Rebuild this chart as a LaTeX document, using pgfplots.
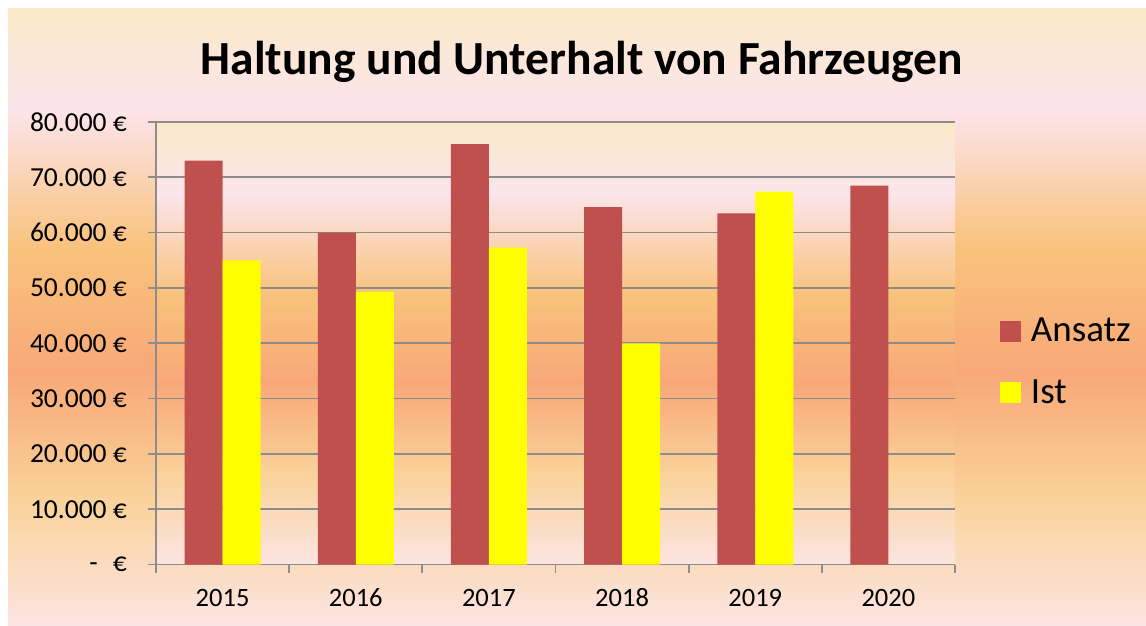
\documentclass[border=0pt]{standalone}
\usepackage{pgfplots}
\pgfplotsset{compat=1.18}
\usepackage{fontspec}
\setmainfont{Carlito}
\definecolor{bgcream}{HTML}{FBE9C9}
\definecolor{bgpink}{HTML}{FCE5EC}
\definecolor{bgorange}{HTML}{F9C27C}
\definecolor{bgsalmon}{HTML}{F8A878}
\definecolor{bglight}{HTML}{FAD39B}
\definecolor{bgpinkb}{HTML}{FCE4E2}
\definecolor{gridgray}{HTML}{8C8C8C}
\definecolor{barred}{HTML}{C0504D}
\definecolor{baryellow}{HTML}{FFFF00}
\pgfdeclareverticalshading{chartbg}{100bp}{color(0bp)=(bgpinkb); color(25bp)=(bgpinkb); color(35bp)=(bglight); color(45.5bp)=(bgsalmon); color(55.5bp)=(bgorange); color(67bp)=(bgpink); color(75bp)=(bgcream); color(100bp)=(bgcream)}
\begin{document}
\begin{tikzpicture}[x=1pt,y=1pt]
\fill[white] (0,0) rectangle (1146,625);
\shade[shading=chartbg] (8,0) rectangle (1146,616);
\begin{axis}[
  at={(156pt,60.5pt)}, anchor=south west,
  scale only axis, width=799pt, height=442.5pt,
  xmin=-0.5, xmax=5.5, ymin=0, ymax=80000,
  ybar=0pt, bar width=38pt,
  axis x line*=bottom, axis y line*=left,
  axis line style={draw=gridgray, line width=1.7pt},
  scaled y ticks=false,
  ytick={0,10000,...,80000},
  yticklabels={{-\hspace{15pt}€},10.000 €,20.000 €,30.000 €,40.000 €,50.000 €,60.000 €,70.000 €,80.000 €},
  ymajorgrids, grid style={gridgray, line width=1.7pt},
  xtick={-0.5,0.5,...,5.5}, xticklabels={},
  extra x ticks={0,1,2,3,4,5},
  extra x tick labels={2015,2016,2017,2018,2019,2020},
  extra x tick style={major tick length=0pt, grid=none},
  tick align=outside,
  major tick length=8pt,
  tick style={gridgray, line width=1.7pt},
  xticklabel style={anchor=base, yshift=-42pt, text=black, font=\fontsize{26.5}{31}\selectfont},
  yticklabel style={anchor=east, inner sep=0pt, xshift=-21pt, text=black, font=\fontsize{27.5}{33}\selectfont},
  axis background/.style={shade, shading=chartbg},
  title={Haltung und Unterhalt von Fahrzeugen},
  title style={at={(0.533,1.0949)}, anchor=base, font=\bfseries\fontsize{47.5}{56}\selectfont},
  legend style={at={(1.0563,0.5577)}, anchor=north west, draw=none, fill=none,
    inner sep=0pt, outer sep=0pt, font=\fontsize{37}{44}\selectfont,
    row sep=31.3pt,
    nodes={inner sep=0pt, text height=24pt, text depth=6pt, anchor=base west},
    /tikz/column 1/.style={column sep=10pt}},
  legend cell align=left,
  legend image code/.code={\fill[#1,draw=none] (0pt,0pt) rectangle (21pt,21pt);},
]
\addplot[fill=barred, draw=none] coordinates {(0,73000) (1,60000) (2,76000) (3,64600) (4,63500) (5,68500)};
\addplot[fill=baryellow, draw=none] coordinates {(0,55000) (1,49300) (2,57300) (3,40000) (4,67400)};
\legend{Ansatz, Ist}
\end{axis}
\end{tikzpicture}
\end{document}
